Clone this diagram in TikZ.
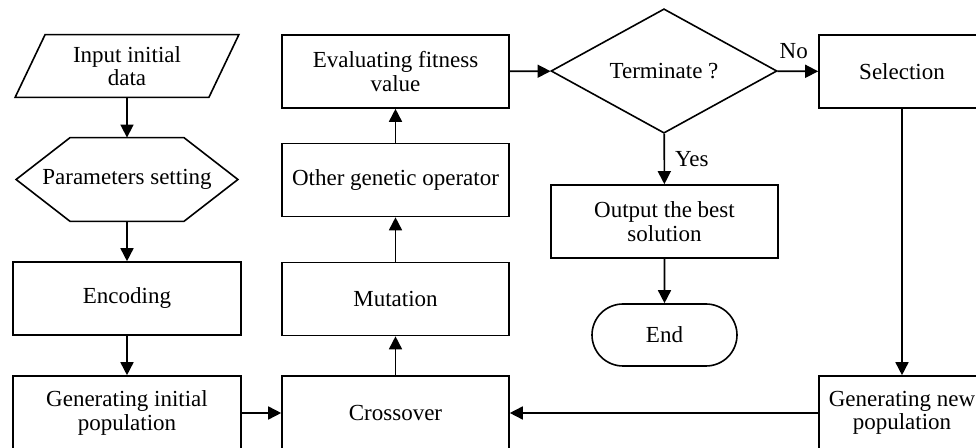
\documentclass[tikz,border=0pt]{standalone}
\usepackage{fontspec}
\setmainfont{Liberation Serif}
\usetikzlibrary{shapes.geometric,shapes.misc,arrows.meta}
\begin{document}
\begin{tikzpicture}[x=0.5pt,y=-0.5pt,
  font=\fontsize{11.5}{11.8}\selectfont,
  ln/.style={line width=0.8pt, line join=miter},
  plain/.style={inner sep=0pt, align=center},
  box/.style={draw, ln, inner sep=0pt, align=center, minimum width=113.5pt, minimum height=36.5pt},
  narrowbox/.style={box, minimum width=83pt},
  arr/.style={ln, -{Triangle[length=6.5pt,width=6.5pt]}},
  lbl/.style={inner sep=0pt}
  ]
\path[use as bounding box, clip] (0,0) rectangle (976,448);

% left column
\node[plain, minimum width=111.5pt, minimum height=31pt] (input) at (127,66) {Input initial\\data};
\draw[ln] ([xshift=15pt]input.north west) -- (input.north east) -- ([xshift=-15pt]input.south east) -- (input.south west) -- cycle;

\node[plain, minimum width=110.5pt, minimum height=41.5pt] (param) at (127,179.5) {Parameters setting};
\draw[ln] (param.west) -- ([xshift=27pt]param.north west) -- ([xshift=-27pt]param.north east) -- (param.east) -- ([xshift=-27pt]param.south east) -- ([xshift=27pt]param.south west) -- cycle;

\node[box, minimum width=114pt] (encode) at (127,298.5) {Encoding};
\node[box, minimum width=114pt, minimum height=37pt] (init) at (127,413) {Generating initial\\population};

% middle column
\node[box] (eval) at (395.5,71.5) {Evaluating fitness\\value};
\node[box] (other) at (395.5,180) {Other genetic operator};
\node[box] (mut) at (395.5,299) {Mutation};
\node[box, minimum height=37pt] (cross) at (395.5,413) {Crossover};

% decision column
\node[draw, ln, diamond, inner sep=0pt, minimum width=113pt, minimum height=62pt] (term) at (664,71) {Terminate ?};
\node[box] (output) at (664.5,221.5) {Output the best\\solution};
\node[draw, ln, rounded rectangle, inner sep=0pt, minimum width=72.5pt, minimum height=31pt] (end) at (664.5,335) {End};

% right column
\node[narrowbox] (sel) at (902,71.5) {Selection};
\node[narrowbox, minimum height=37pt] (newpop) at (902,413) {Generating new\\population};

% connectors
\draw[arr] (input) -- (param);
\draw[arr] (param) -- (encode);
\draw[arr] (encode) -- (init);
\draw[arr] (init) -- (cross);
\draw[arr] (cross) -- (mut);
\draw[arr] (mut) -- (other);
\draw[arr] (other) -- (eval);
\draw[arr] (eval) -- (term);
\draw[arr] (term) -- node[lbl, right, xshift=5pt] {Yes} (output);
\draw[arr] (output) -- (end);
\draw[arr] (term) -- node[lbl, above, pos=0.4, yshift=6pt] {No} (sel);
\draw[arr] (sel) -- (newpop);
\draw[arr] (newpop) -- (cross);
\end{tikzpicture}
\end{document}
